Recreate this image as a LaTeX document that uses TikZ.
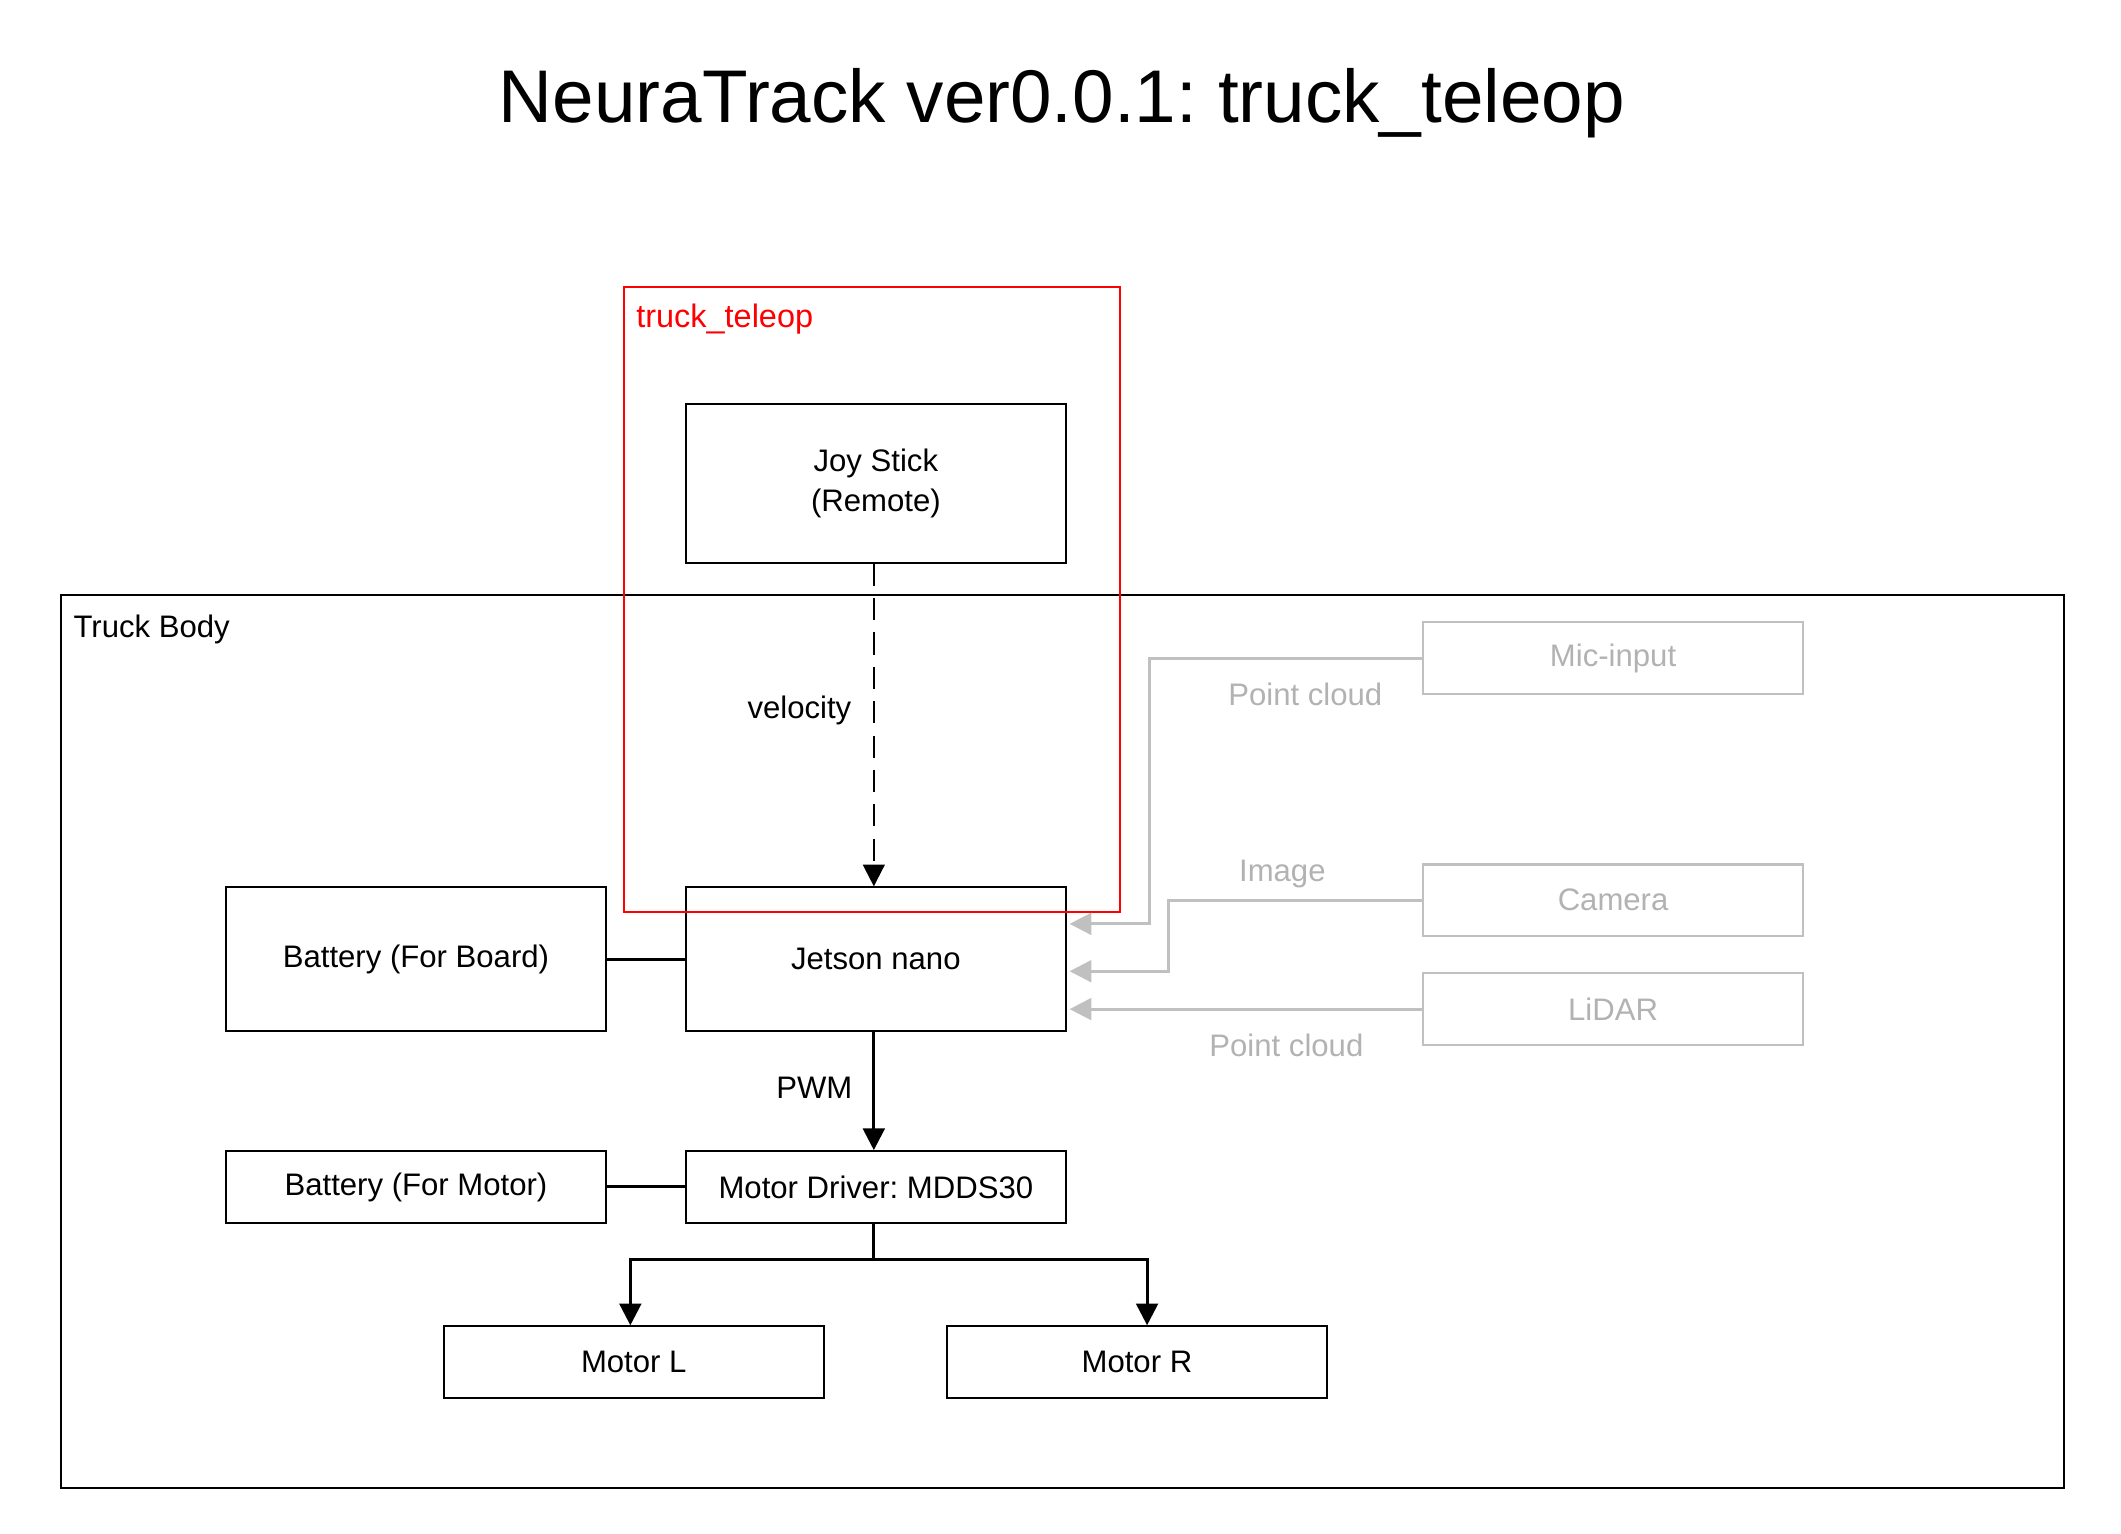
\documentclass[tikz,border=0pt]{standalone}
\usepackage{fontspec}
\setmainfont{Liberation Sans}
\frenchspacing
\usetikzlibrary{arrows.meta,calc}
\definecolor{gline}{RGB}{192,192,192}
\definecolor{gtext}{RGB}{178,178,178}
\definecolor{redline}{RGB}{255,0,0}
\tikzset{
  lbl/.style={font=\fontsize{11.5}{13.8}\selectfont, inner sep=0pt},
  box/.style={draw=black, line width=0.75pt, minimum width=140.5pt, inner sep=0pt, align=center, font=\fontsize{11.5}{15}\selectfont},
  gbox/.style={draw=gline, line width=0.9pt, minimum width=140.5pt, minimum height=26.5pt, inner sep=0pt, text=gtext, font=\fontsize{11.5}{13.8}\selectfont},
  arr/.style={draw=black, line width=1.1pt, -{Triangle[length=8pt,width=8pt]}},
  garr/.style={draw=gline, line width=1.1pt, -{Triangle[length=8pt,width=8pt]}},
  conn/.style={draw=black, line width=1.1pt},
}
\begin{document}
\begin{tikzpicture}[x=0.5pt,y=-0.5pt]
\useasboundingbox (0,0) rectangle (1568,1134);
% title
\node[font=\fontsize{27.6}{33}\selectfont, inner sep=0pt] (title) at (785,76) {NeuraTrack ver0.0.1: truck\_teleop};
% truck body frame
\draw[line width=0.75pt] (45,440) rectangle (1526,1100);
\node[lbl, anchor=west] (tblabel) at (54,465) {Truck Body};
% nodes
\node[box, minimum height=58.5pt] (joy) at (647.5,357.5) {Joy Stick\\(Remote)};
\node[box, minimum height=53pt] (jetson) at (647.5,709) {Jetson nano};
\node[box, minimum height=53pt] (batb) at (307.5,709) {Battery (For Board)};
\node[box, minimum height=26.5pt] (batm) at (307.5,877.5) {Battery (For Motor)};
\node[box, minimum height=26.5pt] (driver) at (647.5,877.5) {Motor Driver: MDDS30};
\node[box, minimum height=26.5pt] (ml) at (468.5,1007) {Motor L};
\node[box, minimum height=26.5pt] (mr) at (840.5,1007) {Motor R};
\node[gbox] (mic) at (1192.5,486.5) {Mic-input};
\node[gbox] (cam) at (1192.5,665.5) {Camera};
\node[gbox] (lidar) at (1192.5,746) {LiDAR};
% red teleop box
\draw[draw=redline, line width=0.75pt] (461,212) rectangle (828,674);
\node[lbl, anchor=west, text=redline, font=\fontsize{12}{14}\selectfont] (tlabel) at (470,236) {truck\_teleop};
% connectors
\draw[arr, line width=0.8pt, dash pattern=on 8.2pt off 4.5pt] ($(joy.south)+(-1.5,0)$) -- ($(jetson.north)+(-1.5,0)$);
\node[lbl] (vel) at (591,525) {velocity};
\draw[arr] ($(jetson.south)+(-1.5,0)$) -- ($(driver.north)+(-1.5,0)$);
\node[lbl] (pwm) at (602,804) {PWM};
\draw[conn] (batb) -- (jetson);
\draw[conn] (batm) -- (driver);
\coordinate (split) at (646,931);
\draw[conn] ($(driver.south)+(-1.5,0)$) -- (split);
\draw[arr] (split) -| ($(ml.north)+(-2.5,0)$);
\draw[arr] (split) -| ($(mr.north)+(7.5,0)$);
% gray sensor links
\draw[garr] (mic.west) -- (850,486.5) |- ($(jetson.east)+(2,-26)$);
\node[lbl, text=gtext] (pc1) at (965,513) {Point cloud};
\draw[garr] (cam.west) -- (864,665.5) |- ($(jetson.east)+(2,9)$);
\node[lbl, text=gtext] (img) at (948,646) {Image};
\draw[garr] (lidar.west) -- ($(jetson.east)+(2,37)$);
\node[lbl, text=gtext] (pc2) at (951,773) {Point cloud};
\end{tikzpicture}
\end{document}
